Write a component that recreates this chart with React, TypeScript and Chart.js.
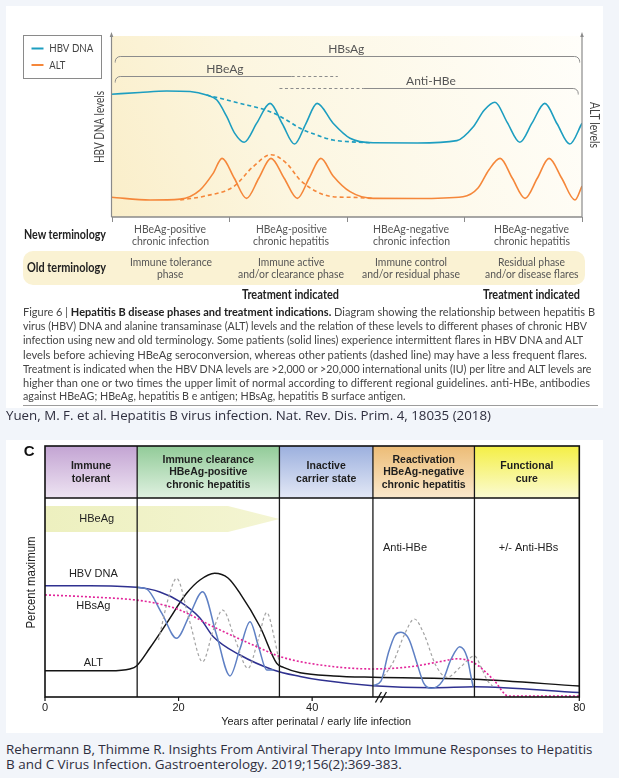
import React, { useEffect, useLayoutEffect, useRef } from "react";
import { Chart, registerables } from "chart.js";

Chart.register(...registerables);

// ================= Figure 6 (Yuen et al.) : relative time 0–100, relative level 0–100 =================
const fig1PhaseEdges = [0, 25, 50, 75, 100];

const dnaSolidT = [0, 6, 11.7, 16.7, 20.2, 22.4, 24.5, 26.2, 28.2, 30.9, 33.7, 36.3, 38.9, 41.3, 43.7, 47.1, 50.7, 55.6, 65, 73.4, 76.9, 79.2, 81.5, 84.1, 86.8, 89.4, 92.1, 94.7, 97.4, 100];
const dnaSolidV = [67.8, 68.8, 69.6, 69.3, 67.4, 64.6, 55.4, 46.2, 41.3, 52, 62.8, 51.5, 40.3, 51.5, 62.8, 51.8, 43.5, 41, 40.9, 42.2, 49.9, 59, 63.4, 52.3, 41.3, 52, 62.8, 51.5, 40.3, 51.8];

const dnaDashT = [20.2, 27.3, 33.7, 37.2, 40.1, 43.6, 47.1, 50.7, 55];
const dnaDashV = [67.4, 62.8, 58.2, 53.6, 49, 45.3, 42.5, 41.6, 41];

const altSolidT = [0, 8.2, 14.6, 18.8, 21.6, 23.5, 26.1, 28.7, 31.3, 33.9, 36.7, 39.5, 42, 44.5, 47.1, 50.7, 55.6, 65, 74.7, 77.9, 80.2, 82.6, 85.2, 87.9, 90.5, 93, 95.7, 98.5, 100];
const altSolidV = [10.9, 9.4, 9.9, 14.9, 24.1, 32.4, 21.4, 10.3, 21.4, 32.4, 21.4, 10.3, 21.4, 32.4, 22.7, 14, 10.3, 10.2, 11.2, 16, 26, 32.4, 21.4, 10.3, 21.4, 32.4, 21.4, 9.4, 17.1];

const altDashT = [14.6, 19.9, 25.9, 30.1, 33.9, 37.2, 40.1, 43.6, 47.1, 50.7, 55.4];
const altDashV = [9.4, 11.6, 16.7, 27.8, 34.4, 29.7, 20.4, 14, 11.2, 10.9, 10.3];

const fig1Brackets = [
  { label: "HBsAg", level: 89, labelAt: 49.9, solid: [0.8, 99.5], dashed: null as number[] | null, roundL: true, roundR: true },
  { label: "HBeAg", level: 77.9, labelAt: 24.1, solid: [0.8, 38.3], dashed: [38.3, 48.1], roundL: true, roundR: false },
  { label: "Anti-HBe", level: 71.1, labelAt: 67.9, solid: [53.5, 99.2], dashed: [35.7, 53.5], roundL: false, roundR: true },
];

const newTerminology = [
  ["HBeAg-positive", "chronic infection"],
  ["HBeAg-positive", "chronic hepatitis"],
  ["HBeAg-negative", "chronic infection"],
  ["HBeAg-negative", "chronic hepatitis"],
];
const oldTerminology = [
  ["Immune tolerance", "phase"],
  ["Immune active", "and/or clearance phase"],
  ["Immune control", "and/or residual phase"],
  ["Residual phase", "and/or disease flares"],
];
const treatmentIndicated = [false, true, false, true];

const captionTitle = "Hepatitis B disease phases and treatment indications.";
const captionLines = [
  "Figure 6 | " + captionTitle + " Diagram showing the relationship between hepatitis B",
  "virus (HBV) DNA and alanine transaminase (ALT) levels and the relation of these levels to different phases of chronic HBV",
  "infection using new and old terminology. Some patients (solid lines) experience intermittent flares in HBV DNA and ALT",
  "levels before achieving HBeAg seroconversion, whereas other patients (dashed line) may have a less frequent flares.",
  "Treatment is indicated when the HBV DNA levels are >2,000 or >20,000 international units (IU) per litre and ALT levels are",
  "higher than one or two times the upper limit of normal according to different regional guidelines. anti-HBe, antibodies",
  "against HBeAG; HBeAg, hepatitis B e antigen; HBsAg, hepatitis B surface antigen.",
];
const citation1 = "Yuen, M. F. et al. Hepatitis B virus infection. Nat. Rev. Dis. Prim. 4, 18035 (2018)";

// ================= Figure C (Rehermann & Thimme) : years 0–80, percent maximum 0–100 =================
const phaseNames2 = [
  ["Immune", "tolerant"],
  ["Immune clearance", "HBeAg-positive", "chronic hepatitis"],
  ["Inactive", "carrier state"],
  ["Reactivation", "HBeAg-negative", "chronic hepatitis"],
  ["Functional", "cure"],
];
const phaseEdges2 = [0, 13.8, 35.1, 49.1, 64.3, 80];
const xTicks2 = [0, 20, 40, 80];

const hbvDna2Yr = [0, 6.7, 13.7, 17.2, 20.2, 23.2, 25.2, 29.2, 34.2, 38.2, 41.2, 49.1, 58.1, 64.3, 80];
const hbvDna2Pct = [55.9, 55.9, 55.1, 52.8, 47.9, 39.7, 30.3, 21.1, 13.6, 10.3, 8.5, 5.7, 4.7, 5.2, 2.2];

const alt2Yr = [0, 9.7, 12.7, 13.7, 15.7, 18.2, 21.2, 23.2, 25.4, 27.4, 29.2, 32.2, 34.7, 35.7, 38.2, 43.2, 49.1, 64.3, 80];
const alt2Pct = [13.2, 13.2, 14.1, 15.6, 24.6, 37, 52.1, 58.8, 62.2, 59.8, 52.1, 35.3, 16.9, 14.9, 12.2, 10.6, 9.9, 8.9, 5.5];

const hbsAg2Yr = [0, 6.7, 13.7, 17.2, 20.2, 25.2, 31.7, 35.2, 41.2, 49.1, 54.7, 59.2, 61.7, 64.2, 67.2, 69.4, 80];
const hbsAg2Pct = [51.3, 50.3, 48.7, 46.7, 43.7, 35.3, 25.3, 20.3, 16.1, 14.1, 15.2, 17.8, 19.2, 17.2, 8.5, 0.5, 0.5];

const flareA1Yr = [13.7, 15.2, 17.5, 19.7, 21.65, 23.6, 25.65, 27.7, 29.2, 30.7, 32.0, 33.2, 34.2];
const flareA1Pct = [55.1, 54.3, 42, 29.5, 41.2, 52.9, 31.7, 10.6, 24.2, 37.8, 25, 13.6, 13.6];
const flareA2Yr = [49.1, 50.3, 51.4, 52.4, 53.3, 54.5, 55.6, 56.7, 57.8, 59.5, 60.8, 62.1, 63.2, 63.8, 64.1];
const flareA2Pct = [5.7, 8, 22, 31, 32.5, 29, 18, 7, 4.4, 8, 19, 25.3, 20, 10, 5.2];

const flareB1Yr = [17.0, 18.5, 19.7, 21.6, 23.6, 25.2, 26.6, 28.5, 30.4, 31.9, 33.2, 34.4, 35.1];
const flareB1Pct = [28.6, 50, 59.6, 38.7, 17.7, 33.7, 43.7, 28.6, 14.4, 28.6, 42.4, 28.6, 16.9];
const flareB2Yr = [50.7, 52.2, 53.9, 55.3, 56.7, 58.5, 60.2, 62.2, 64.3, 65.3, 66.2, 67.0];
const flareB2Pct = [10.2, 18, 32, 39.2, 32, 16, 9.9, 15, 20.6, 15, 8.5, 5.5];

const hbeagArrow = { from: 0, headStart: 27.4, tip: 35.1, top: 96, bottom: 82.9 };
const fig2Labels = [
  { text: "HBeAg", x: 7.75, y: 89.3 },
  { text: "Anti-HBe", x: 53.9, y: 75.1 },
  { text: "+/- Anti-HBs", x: 72.4, y: 75.1 },
  { text: "HBV DNA", x: 7.24, y: 61.6 },
  { text: "HBsAg", x: 7.24, y: 45.7 },
  { text: "ALT", x: 7.24, y: 17.2 },
];
const citation2 = [
  "Rehermann B, Thimme R. Insights From Antiviral Therapy Into Immune Responses to Hepatitis",
  "B and C Virus Infection. Gastroenterology. 2019;156(2):369-383.",
];

const headerTop = ["#c3a4d3", "#92cb98", "#9cb0de", "#ecbc76", "#f4ef45"];
const headerBottom = ["#eee4f2", "#e0f1e1", "#e3e8f6", "#fbe9cd", "#fbfbd3"];

// ================= helpers =================
const pts = (t: number[], v: number[]) => t.map((x, i) => ({ x, y: v[i] }));

function Fit({ x, y, w, anchor = "left", size, family, weight = 400, color = "#333", children }: any) {
  const ref = useRef<HTMLSpanElement>(null);
  useLayoutEffect(() => {
    const el = ref.current;
    if (!el) return;
    el.style.transform = "none";
    const nat = el.getBoundingClientRect().width || 1;
    el.style.transform = `scaleX(${w / nat})`;
  });
  const lh = Math.round(size * 1.3);
  const left = anchor === "center" ? x - w / 2 : x;
  return (
    <span
      ref={ref}
      style={{
        position: "absolute", left, top: y - lh / 2, lineHeight: `${lh}px`, fontSize: size,
        fontFamily: family, fontWeight: weight, color, whiteSpace: "nowrap", transformOrigin: "0 50%",
      }}
    >
      {children}
    </span>
  );
}

function roundBracket(ctx: CanvasRenderingContext2D, x1: number, x2: number, yl: number, rl: boolean, rr: boolean) {
  const r = 5;
  ctx.beginPath();
  if (rl) {
    ctx.moveTo(x1, yl + 6);
    ctx.arcTo(x1, yl, x1 + r, yl, r);
  } else ctx.moveTo(x1, yl);
  if (rr) {
    ctx.lineTo(x2 - r, yl);
    ctx.arcTo(x2, yl, x2, yl + 6, r);
    ctx.lineTo(x2, yl + 6);
  } else ctx.lineTo(x2, yl);
  ctx.stroke();
}

const fig1Plugin = {
  id: "fig1Decor",
  beforeDatasetsDraw(chart: any) {
    const { ctx, chartArea: a, scales } = chart;
    const x = scales.x, y = scales.y;
    ctx.save();
    const g = ctx.createLinearGradient(a.left, a.bottom, a.right, a.top);
    g.addColorStop(0, "#faeec9");
    g.addColorStop(0.35, "#fcf6e0");
    g.addColorStop(1, "#fffefa");
    ctx.fillStyle = g;
    ctx.fillRect(a.left, a.top, a.right - a.left, a.bottom - a.top);
    ctx.strokeStyle = "#8c8c8c";
    ctx.lineWidth = 1;
    ctx.font = "12px Lato, 'Liberation Sans', sans-serif";
    ctx.fillStyle = "#555";
    ctx.textAlign = "center";
    ctx.textBaseline = "middle";
    fig1Brackets.forEach((b) => {
      const yl = Math.round(y.getPixelForValue(b.level)) + 0.5;
      ctx.setLineDash([]);
      roundBracket(ctx, x.getPixelForValue(b.solid[0]), x.getPixelForValue(b.solid[1]), yl, b.roundL, b.roundR);
      if (b.dashed) {
        ctx.setLineDash([3, 2.5]);
        ctx.beginPath();
        ctx.moveTo(x.getPixelForValue(b.dashed[0]), yl);
        ctx.lineTo(x.getPixelForValue(b.dashed[1]), yl);
        ctx.stroke();
      }
      ctx.fillText(b.label, x.getPixelForValue(b.labelAt), yl - 7.5);
    });
    ctx.restore();
  },
  afterDatasetsDraw(chart: any) {
    const { ctx, chartArea: a, scales } = chart;
    const x = scales.x;
    ctx.save();
    ctx.strokeStyle = "#8a8a8a";
    ctx.fillStyle = "#8a8a8a";
    ctx.lineWidth = 1.2;
    // axes
    [a.left, a.right].forEach((px: number) => {
      ctx.beginPath();
      ctx.moveTo(px, a.bottom);
      ctx.lineTo(px, a.top - 1);
      ctx.stroke();
      ctx.beginPath();
      ctx.moveTo(px, a.top - 4);
      ctx.lineTo(px - 1.8, a.top + 1);
      ctx.lineTo(px + 1.8, a.top + 1);
      ctx.closePath();
      ctx.fill();
    });
    ctx.lineWidth = 1.4;
    ctx.beginPath();
    ctx.moveTo(a.left, a.bottom);
    ctx.lineTo(a.right, a.bottom);
    ctx.stroke();
    ctx.lineWidth = 1;
    fig1PhaseEdges.forEach((t) => {
      const px = Math.round(x.getPixelForValue(t)) + 0.5;
      ctx.beginPath();
      ctx.moveTo(px, a.bottom);
      ctx.lineTo(px, a.bottom + 5);
      ctx.stroke();
    });
    // axis titles
    ctx.fillStyle = "#444";
    ctx.font = "12.5px Lato, 'Liberation Sans', sans-serif";
    ctx.textAlign = "center";
    ctx.textBaseline = "middle";
    ctx.save();
    ctx.translate(100, 127);
    ctx.rotate(-Math.PI / 2);
    ctx.fillText("HBV DNA levels", 0, 0, 72);
    ctx.restore();
    ctx.save();
    ctx.translate(594, 125);
    ctx.rotate(Math.PI / 2);
    ctx.fillText("ALT levels", 0, 0, 46);
    ctx.restore();
    // legend
    ctx.font = "12px Lato, 'Liberation Sans', sans-serif";
    ctx.strokeStyle = "#8a8a8a";
    ctx.lineWidth = 1;
    ctx.strokeRect(23.5, 35.5, 78, 43);
    const items = [chart.data.datasets[0], chart.data.datasets[2]];
    items.forEach((ds: any, i: number) => {
      const ly = i === 0 ? 48.5 : 65;
      ctx.strokeStyle = ds.borderColor;
      ctx.lineWidth = 2;
      ctx.beginPath();
      ctx.moveTo(31.5, ly);
      ctx.lineTo(43.5, ly);
      ctx.stroke();
      ctx.fillStyle = "#444";
      ctx.textAlign = "left";
      ctx.fillText(ds.label, 49.3, ly, i === 0 ? 44 : 16);
    });
    ctx.restore();
  },
};

const fig2Plugin = {
  id: "fig2Decor",
  beforeDatasetsDraw(chart: any) {
    const { ctx, chartArea: a, scales } = chart;
    const x = scales.x, y = scales.y;
    const hTop = a.top - 52;
    ctx.save();
    phaseNames2.forEach((_, i) => {
      const x0 = x.getPixelForValue(phaseEdges2[i]);
      const x1 = x.getPixelForValue(phaseEdges2[i + 1]);
      const g = ctx.createLinearGradient(0, hTop, 0, a.top);
      g.addColorStop(0, headerTop[i]);
      g.addColorStop(1, headerBottom[i]);
      ctx.fillStyle = g;
      ctx.fillRect(x0, hTop, x1 - x0, a.top - hTop);
    });
    const ax0 = x.getPixelForValue(hbeagArrow.from);
    const ax1 = x.getPixelForValue(hbeagArrow.headStart);
    const ax2 = x.getPixelForValue(hbeagArrow.tip);
    const yT = y.getPixelForValue(hbeagArrow.top);
    const yB = y.getPixelForValue(hbeagArrow.bottom);
    const yM = (yT + yB) / 2;
    const ag = ctx.createLinearGradient(ax0, 0, ax2, 0);
    ag.addColorStop(0, "#edf0bf");
    ag.addColorStop(1, "#f4f5d3");
    ctx.fillStyle = ag;
    ctx.beginPath();
    ctx.moveTo(ax0, yT);
    ctx.lineTo(ax1, yT);
    ctx.lineTo(ax2, yM);
    ctx.lineTo(ax1, yB);
    ctx.lineTo(ax0, yB);
    ctx.closePath();
    ctx.fill();
    ctx.restore();
  },
  afterDatasetsDraw(chart: any) {
    const { ctx, chartArea: a, scales } = chart;
    const x = scales.x, y = scales.y;
    const hTop = a.top - 52;
    ctx.save();
    // separators
    ctx.strokeStyle = "#1a1a1a";
    ctx.lineWidth = 1.3;
    phaseEdges2.slice(1, -1).forEach((t) => {
      const px = x.getPixelForValue(t);
      ctx.beginPath();
      ctx.moveTo(px, hTop);
      ctx.lineTo(px, a.bottom);
      ctx.stroke();
    });
    ctx.lineWidth = 1.6;
    ctx.strokeStyle = "#111";
    ctx.strokeRect(a.left, hTop, a.right - a.left, a.bottom - hTop);
    ctx.beginPath();
    ctx.moveTo(a.left, a.top);
    ctx.lineTo(a.right, a.top);
    ctx.stroke();
    // header text
    ctx.fillStyle = "#1e1e1e";
    ctx.textAlign = "center";
    ctx.textBaseline = "middle";
    ctx.font = "bold 10.5px 'Liberation Sans', Arial, sans-serif";
    phaseNames2.forEach((lines, i) => {
      const cx = (x.getPixelForValue(phaseEdges2[i]) + x.getPixelForValue(phaseEdges2[i + 1])) / 2;
      const cy = hTop + 26.5;
      const step = lines.length === 3 ? 12.5 : 13;
      lines.forEach((ln, j) => {
        ctx.fillText(ln, cx, cy + (j - (lines.length - 1) / 2) * step, 96);
      });
    });
    // in-plot labels
    ctx.font = "11px 'Liberation Sans', Arial, sans-serif";
    ctx.fillStyle = "#222";
    fig2Labels.forEach((l) => {
      ctx.fillText(l.text, x.getPixelForValue(l.x), y.getPixelForValue(l.y));
    });
    // ticks
    ctx.lineWidth = 1.2;
    ctx.strokeStyle = "#111";
    xTicks2.forEach((t) => {
      const px = x.getPixelForValue(t);
      ctx.beginPath();
      ctx.moveTo(px, a.bottom);
      ctx.lineTo(px, a.bottom + 4);
      ctx.stroke();
      ctx.fillText(String(t), px, a.bottom + 10.5);
    });
    // axis break
    const bx = x.getPixelForValue(50.3);
    ctx.lineWidth = 1.3;
    [-2.5, 2.5].forEach((d) => {
      ctx.beginPath();
      ctx.moveTo(bx + d - 3, a.bottom + 5.5);
      ctx.lineTo(bx + d + 3, a.bottom - 5);
      ctx.stroke();
    });
    ctx.font = "11.5px 'Liberation Sans', Arial, sans-serif";
    ctx.fillText("Years after perinatal / early life infection", x.getPixelForValue(40.6), a.bottom + 25, 190);
    ctx.save();
    ctx.translate(31.6, 142.5);
    ctx.rotate(-Math.PI / 2);
    ctx.font = "12.5px 'Liberation Sans', Arial, sans-serif";
    ctx.fillText("Percent maximum", 0, 0, 92);
    ctx.restore();
    ctx.font = "bold 15px 'Liberation Sans', Arial, sans-serif";
    ctx.fillStyle = "#111";
    ctx.fillText("C", 29.2, 11.5);
    ctx.restore();
  },
};

function Fig1Chart() {
  const ref = useRef<HTMLCanvasElement>(null);
  useEffect(() => {
    const common = { pointRadius: 0, borderWidth: 1.6, cubicInterpolationMode: "monotone" as const, fill: false };
    const chart = new Chart(ref.current!, {
      type: "line",
      data: {
        datasets: [
          { ...common, label: "HBV DNA", data: pts(dnaSolidT, dnaSolidV), borderColor: "#1d9ec0", yAxisID: "y" },
          { ...common, label: "HBV DNA (less frequent flares)", data: pts(dnaDashT, dnaDashV), borderColor: "#1d9ec0", borderDash: [4, 3], yAxisID: "y" },
          { ...common, label: "ALT", data: pts(altSolidT, altSolidV), borderColor: "#f5873a", yAxisID: "y1" },
          { ...common, label: "ALT (less frequent flares)", data: pts(altDashT, altDashV), borderColor: "#f5873a", borderDash: [4, 3], yAxisID: "y1" },
        ],
      },
      options: {
        animation: false,
        responsive: false,
        devicePixelRatio: 1,
        layout: { padding: { left: 111.5, right: 37, top: 36, bottom: 83 } },
        plugins: { legend: { display: false }, tooltip: { enabled: false }, title: { display: false } },
        scales: {
          x: { type: "linear", min: 0, max: 100, display: false },
          y: { type: "linear", min: 0, max: 100, display: false },
          y1: { type: "linear", min: 0, max: 100, display: false, position: "right" },
        },
      },
      plugins: [fig1Plugin],
    });
    return () => chart.destroy();
  }, []);
  return <canvas ref={ref} width={619} height={300} style={{ position: "absolute", left: 0, top: 0 }} />;
}

function Fig2Chart() {
  const ref = useRef<HTMLCanvasElement>(null);
  useEffect(() => {
    const common = { pointRadius: 0, borderWidth: 1.5, cubicInterpolationMode: "monotone" as const, fill: false };
    const chart = new Chart(ref.current!, {
      type: "line",
      data: {
        datasets: [
          { ...common, label: "HBsAg", data: pts(hbsAg2Yr, hbsAg2Pct), borderColor: "#e2259a", borderDash: [2, 2], borderWidth: 1.6 },
          { ...common, label: "HBV DNA flares (other patients)", data: pts(flareB1Yr, flareB1Pct), borderColor: "#a3a3a3", borderDash: [3, 2.5], borderWidth: 1.2 },
          { ...common, label: "HBV DNA flares (other patients) 2", data: pts(flareB2Yr, flareB2Pct), borderColor: "#a3a3a3", borderDash: [3, 2.5], borderWidth: 1.2 },
          { ...common, label: "HBV DNA flares", data: pts(flareA1Yr, flareA1Pct), borderColor: "#5f80c4" },
          { ...common, label: "HBV DNA flares 2", data: pts(flareA2Yr, flareA2Pct), borderColor: "#5f80c4" },
          { ...common, label: "HBV DNA", data: pts(hbvDna2Yr, hbvDna2Pct), borderColor: "#2f3190" },
          { ...common, label: "ALT", data: pts(alt2Yr, alt2Pct), borderColor: "#141414" },
        ],
      },
      options: {
        animation: false,
        responsive: false,
        devicePixelRatio: 1,
        layout: { padding: { left: 45, right: 39.7, top: 58, bottom: 43 } },
        plugins: { legend: { display: false }, tooltip: { enabled: false }, title: { display: false } },
        scales: {
          x: { type: "linear", min: 0, max: 80, display: false },
          y: { type: "linear", min: 0, max: 100, display: false },
        },
      },
      plugins: [fig2Plugin],
    });
    return () => chart.destroy();
  }, []);
  return <canvas ref={ref} width={619} height={300} style={{ position: "absolute", left: 0, top: 440 }} />;
}

const F1 = "Lato, 'Open Sans', sans-serif";
const FC = "'Open Sans', 'Noto Sans', sans-serif";

const newCols = [170, 291, 411, 531.5];
const newW = [[72, 77], [71, 76], [76, 77], [75, 76]];
const oldCols = [170.5, 290.7, 411.2, 531.9];
const oldW = [[82, 26.5], [66.4, 106], [72, 98], [67, 93.6]];
const captionW = [572, 564, 560, 564, 568.5, 567, 382.5];
const captionY = [312, 326, 340.3, 354.5, 368.5, 382.5, 396.3];

export default function App() {
  useEffect(() => {
    document.body.style.margin = "0";
  }, []);
  return (
    <div style={{ position: "absolute", left: 0, top: 0, width: 619, height: 778, background: "#f2f5fa", overflow: "hidden" }}>
      <div style={{ position: "absolute", left: 6, top: 6, width: 597, height: 401.5, background: "#fff" }} />
      <div style={{ position: "absolute", left: 6, top: 440, width: 597, height: 293, background: "#fff" }} />
      <div style={{ position: "absolute", left: 23, top: 251, width: 561.5, height: 34, borderRadius: 10, background: "#faf2d3" }} />
      <div style={{ position: "absolute", left: 22.5, top: 404.5, width: 575.5, height: 1, background: "#9c9c9c" }} />
      <Fig1Chart />
      <Fig2Chart />

      <Fit x={23.7} y={234.5} w={82} size={12.5} family={F1} weight={700} color="#222">New terminology</Fit>
      <Fit x={27} y={267.5} w={79} size={12.5} family={F1} weight={700} color="#222">Old terminology</Fit>
      {newTerminology.map((lines, i) =>
        lines.map((ln, j) => (
          <Fit key={`n${i}${j}`} x={newCols[i]} y={j === 0 ? 229 : 240.5} w={newW[i][j]} anchor="center" size={12} family={F1} color="#555">{ln}</Fit>
        ))
      )}
      {oldTerminology.map((lines, i) =>
        lines.map((ln, j) => (
          <Fit key={`o${i}${j}`} x={oldCols[i]} y={j === 0 ? 261.7 : 273.5} w={oldW[i][j]} anchor="center" size={12} family={F1} color="#555">{ln}</Fit>
        ))
      )}
      {treatmentIndicated.map((on, i) =>
        on ? (
          <Fit key={`t${i}`} x={oldCols[i]} y={295} w={97} anchor="center" size={12.5} family={F1} weight={700} color="#222">Treatment indicated</Fit>
        ) : null
      )}
      {captionLines.map((ln, i) => {
        let content: React.ReactNode = ln;
        if (i === 0) {
          const [pre, post] = ln.split(captionTitle);
          content = (
            <>
              {pre}
              <b style={{ color: "#222" }}>{captionTitle}</b>
              {post}
            </>
          );
        }
        return (
          <Fit key={`c${i}`} x={22.5} y={captionY[i]} w={captionW[i]} size={12} family={F1} color="#444">{content}</Fit>
        );
      })}
      <Fit x={6} y={416} w={485} size={12.5} family={FC} color="#2e2e3e">{citation1}</Fit>
      <Fit x={6} y={750} w={586.5} size={12.5} family={FC} color="#2e2e3e">{citation2[0]}</Fit>
      <Fit x={6} y={764.5} w={395.7} size={12.5} family={FC} color="#2e2e3e">{citation2[1]}</Fit>
    </div>
  );
}
